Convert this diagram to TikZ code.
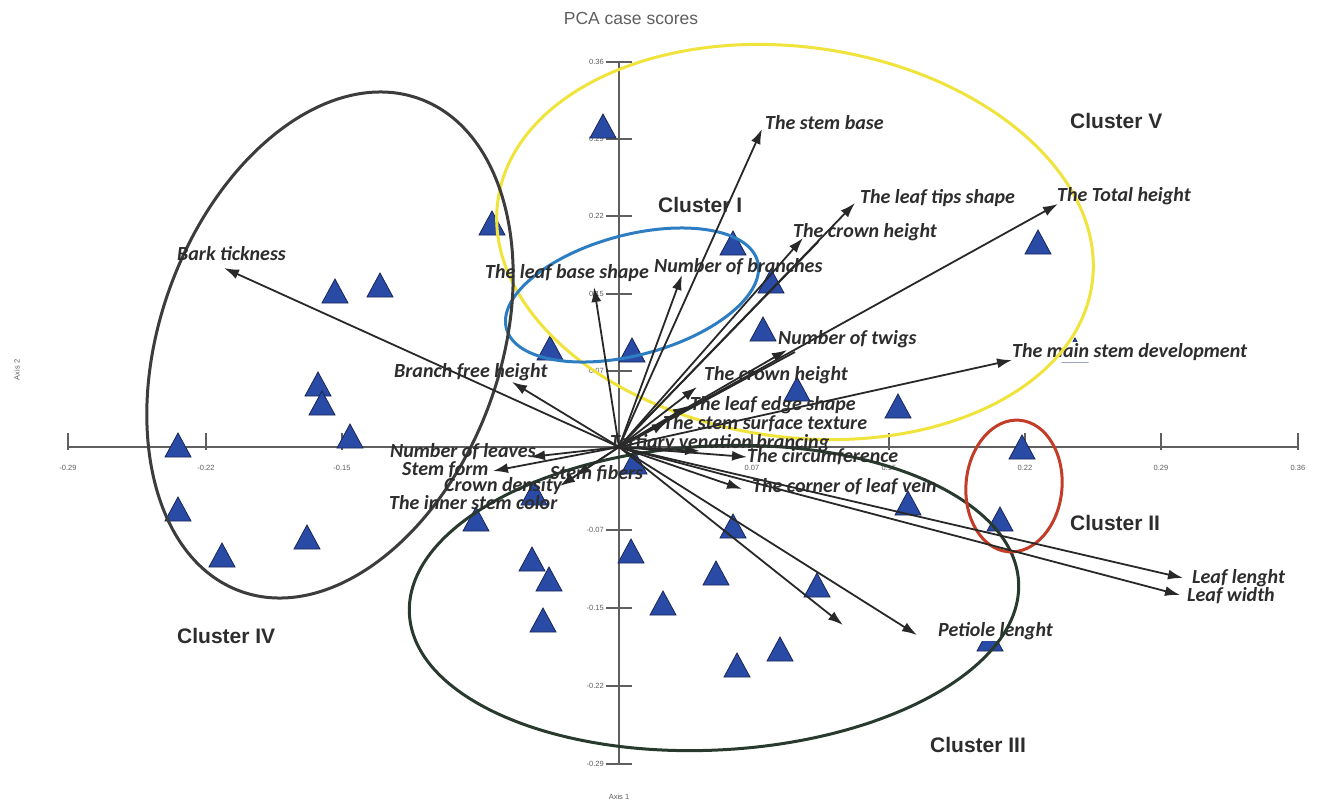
\documentclass[tikz,border=0pt]{standalone}
\usepackage{fontspec}
\setmainfont{Carlito}
\newfontfamily\clusterfont{Liberation Sans}
\usetikzlibrary{arrows.meta}
\definecolor{axisgray}{RGB}{95,95,95}
\definecolor{vecgray}{RGB}{40,40,40}
\definecolor{labgray}{RGB}{45,45,45}
\definecolor{ptblue}{RGB}{42,75,165}
\definecolor{ptedge}{RGB}{25,38,90}
\definecolor{cyellow}{RGB}{240,228,60}
\definecolor{cblue}{RGB}{45,125,195}
\definecolor{cred}{RGB}{195,60,40}
\definecolor{cgray}{RGB}{60,60,60}
\definecolor{cgreen}{RGB}{40,58,45}

\begin{document}
\begin{tikzpicture}[x=1pt,y=-1pt,>={Latex[length=15pt,width=10pt]},
	vec/.style={->,line width=1.8pt,draw=vecgray},
	lab/.style={font=\bfseries\itshape\fontsize{20}{22}\selectfont,text=labgray,inner sep=0pt,anchor=west},
	clus/.style={font=\clusterfont\bfseries\fontsize{21}{24}\selectfont,text=labgray,inner sep=0pt,anchor=west},
	tick/.style={font=\clusterfont\fontsize{7.5}{9}\selectfont,text=axisgray,inner sep=0pt},
	ring/.style={line width=3pt},
	pt/.style={fill=ptblue,draw=ptedge,line width=0.8pt}]
		\useasboundingbox[fill=white] (0,0) rectangle (1317,803);
		%\draw [help lines] (0,0) grid [step=100] (1317,803);

		% axes
		\coordinate (O) at (619,447);
		\coordinate (xl) at (68,447);
		\coordinate (xr) at (1298,447);
		\coordinate (yt) at (619,62);
		\coordinate (yb) at (619,764);
		\draw [axisgray, line width=1.5pt] (xl) -- (xr);
		\draw [axisgray, line width=1.5pt] (yt) -- (yb);
		\foreach \tx/\tl in {68/-0.29,206/-0.22,342/-0.15,752/0.07,889/0.15,1025/0.22,1161/0.29,1298/0.36}
		{
			\draw [axisgray, line width=1.2pt] (\tx,450) -- (\tx,433);
			\node [tick] (xt\tx) at (\tx,468) {\tl};
		}
		\foreach \ty/\tl in {62/0.36,139/0.29,216/0.22,294/0.15,371/0.07,530/-0.07,608/-0.15,686/-0.22,764/-0.29}
		{
			\draw [axisgray, line width=1.2pt] (606,\ty) -- (632,\ty);
			\node [tick, anchor=east] (yt\ty) at (604,\ty) {\tl};
		}
		\node [font=\clusterfont\fontsize{17.5}{20}\selectfont, text=axisgray] (title) at (631,18) {PCA case scores};
		\node [tick] (ax1) at (619,797) {Axis 1};
		\node [tick, rotate=90] (ax2) at (17,370) {Axis 2};

		% case scores
		\foreach \px/\py in {603/127,492/224,733/244,1038/243,335/292,380/286,771/282,763/330,550/349,632/351,
			1075/351,318/385,322/404,797/390,898/407,350/437,178/446,1022/448,634/463,534/494,908/504,
			178/510,1000/520,476/520,733/527,307/538,532/560,222/556,631/552,549/580,716/574,817/586,
			663/604,543/621,780/650,737/666,990/640}
			\filldraw [pt] (\px-13,\py+11) -- ++(26,0) -- (\px,\py-13) -- cycle;
		\node [lab, fill=white, inner ysep=1pt] (mainL) at (1012,352) {The main stem development};
		\node [lab, fill=white, inner ysep=1pt] (petioleL) at (938,631) {Petiole lenght};

		% clusters
		\draw [ring, cyellow, rotate around={-8:(795,242)}] (795,242) ellipse [x radius=300, y radius=195];
		\draw [ring, cblue, rotate around={15:(632,295)}] (632,295) ellipse [x radius=130, y radius=60];
		\draw [ring, cgray, rotate around={-20:(330,345)}] (330,345) ellipse [x radius=170, y radius=262];
		\draw [ring, cgreen, rotate around={3:(714,598)}] (714,598) ellipse [x radius=305, y radius=152];
		\draw [ring, cred, rotate around={-5:(1014,486)}] (1014,486) ellipse [x radius=48, y radius=66];
		\node [clus] (c1) at (658,205) {Cluster I};
		\node [clus] (c2) at (1070,523) {Cluster II};
		\node [clus] (c3) at (930,745) {Cluster III};
		\node [clus] (c4) at (177,636) {Cluster IV};
		\node [clus] (c5) at (1070,121) {Cluster V};

		% loadings
		\coordinate (bark) at (224,268);
		\coordinate (leafbase) at (594,287);
		\coordinate (branches) at (682,275);
		\coordinate (stembase) at (762,129);
		\coordinate (crownup) at (803,238);
		\coordinate (tips) at (855,203);
		\coordinate (total) at (1058,204);
		\coordinate (twigs) at (787,350);
		\coordinate (mainstem) at (1012,360);
		\coordinate (branchfree) at (512,382);
		\coordinate (crownlow) at (697,387);
		\coordinate (leafedge) at (688,406);
		\coordinate (surface) at (667,422);
		\coordinate (tertiary) at (700,451);
		\coordinate (leaves) at (530,457);
		\coordinate (circum) at (747,457);
		\coordinate (stemform) at (493,471);
		\coordinate (fibers) at (575,476);
		\coordinate (crowndens) at (560,486);
		\coordinate (corner) at (742,489);
		\coordinate (lenght) at (1183,578);
		\coordinate (width) at (1180,595);
		\coordinate (petiole) at (917,635);
		\coordinate (free) at (843,625);
		\coordinate (crownb) at (818,242);
		\coordinate (twigsb) at (795,352);
		\foreach \e in {bark,leafbase,branches,stembase,crownup,tips,total,twigs,mainstem,branchfree,crownlow,
			leafedge,surface,tertiary,leaves,circum,stemform,fibers,crowndens,corner,lenght,width,petiole,free}
			\draw [vec] (O) -- (\e);
		\draw [line width=1.8pt, vecgray] (O) -- (crownb);
		\draw [line width=1.8pt, vecgray] (O) -- (twigsb);

		\node [lab] (barkL) at (177,254) {Bark tickness};
		\node [lab] (leafbaseL) at (485,273) {The leaf base shape};
		\node [lab] (branchesL) at (654,267) {Number of branches};
		\node [lab] (stembaseL) at (765,123) {The stem base};
		\node [lab] (crownupL) at (793,232) {The crown height};
		\node [lab] (tipsL) at (860,198) {The leaf tips shape};
		\node [lab] (totalL) at (1057,196) {The Total height};
		\node [lab] (twigsL) at (778,339) {Number of twigs};
		\node [lab] (branchfreeL) at (394,372) {Branch free height};
		\node [lab] (crownlowL) at (704,375) {The crown height};
		\node [lab] (leafedgeL) at (690,405) {The leaf edge shape};
		\node [lab] (surfaceL) at (663,424) {The stem surface texture};
		\node [lab] (tertiaryL) at (610,443) {Tertiary venation brancing};
		\node [lab] (leavesL) at (390,452) {Number of leaves};
		\node [lab] (circumL) at (747,457) {The circumference};
		\node [lab] (stemformL) at (402,470) {Stem form};
		\node [lab] (fibersL) at (550,474) {Stem fibers};
		\node [lab] (crowndensL) at (444,486) {Crown density};
		\node [lab] (cornerL) at (752,487) {The corner of leaf vein};
		\node [lab] (innerL) at (389,503) {The inner stem color};
		\node [lab] (lenghtL) at (1192,578) {Leaf lenght};
		\node [lab] (widthL) at (1187,596) {Leaf width};
	\end{tikzpicture}
\end{document}
